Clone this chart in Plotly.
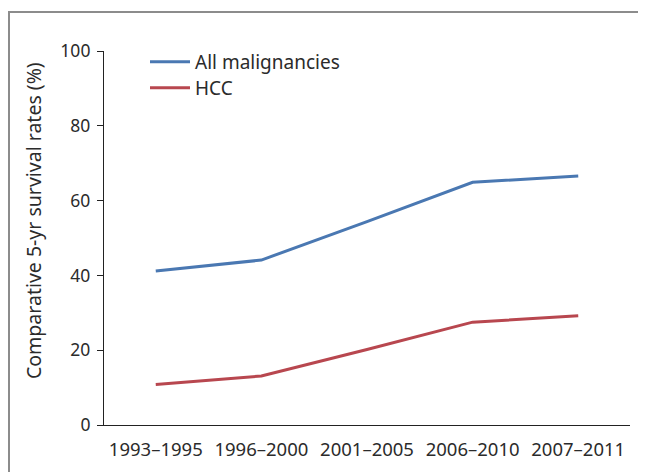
import plotly.graph_objects as go

periods = ["1993–1995", "1996–2000", "2001–2005", "2006–2010", "2007–2011"]
all_malignancies = [41.2, 44.1, 54.4, 64.9, 66.6]
hcc = [10.8, 13.1, 20.2, 27.5, 29.2]
y_ticks = [0, 20, 40, 60, 80, 100]

FONT = "Noto Sans"
TXT = "#2b2b2b"

fig = go.Figure()
fig.add_trace(go.Scatter(x=periods, y=all_malignancies, mode="lines", name="All malignancies",
                         line=dict(color="#4a78b2", width=3), legend="legend"))
fig.add_trace(go.Scatter(x=periods, y=hcc, mode="lines", name="HCC",
                         line=dict(color="#b8474f", width=3), legend="legend2"))

OFF = 8  # page body margin
W, H = 646, 472
L, T = 104 - OFF, 51 - OFF
R = W - (630 - OFF)
B = H - (425 - OFF)
pw, ph = W - L - R, H - T - B
bx = (9 - OFF - L) / pw
by = 1 + (T - (12 - OFF)) / ph


def leg_y(row_px):
    top = row_px - 19 - OFF
    return 1 + (T - top) / ph


leg_common = dict(x=(145 - OFF - L) / pw, xanchor="left", yanchor="top",
                  bgcolor="rgba(0,0,0,0)", font=dict(size=19, color=TXT), itemwidth=40)

fig.update_layout(
    width=W, height=H,
    margin=dict(l=L, r=R, t=T, b=B),
    paper_bgcolor="white", plot_bgcolor="white",
    font=dict(family=FONT, size=16, color=TXT),
    showlegend=True,
    legend=dict(y=leg_y(62), **leg_common),
    legend2=dict(y=leg_y(88), **leg_common),
    xaxis=dict(type="category", range=[-0.49, 4.49], showgrid=False, zeroline=False,
               showline=True, linecolor="#222", linewidth=1.2, ticks="",
               ticklabelstandoff=8,
               tickfont=dict(size=18.5, color=TXT)),
    yaxis=dict(range=[0, 100], tickvals=y_ticks, showgrid=False, zeroline=False,
               showline=True, linecolor="#222", linewidth=1.2, ticks="outside",
               ticklen=6, tickcolor="#222", tickwidth=1, ticklabelstandoff=3,
               tickfont=dict(size=17.5, color=TXT)),
    shapes=[dict(type="path", xref="paper", yref="paper",
                 path=f"M {bx} -0.3 L {bx} {by} L 1.2 {by}",
                 line=dict(color="#8c8c8c", width=2))],
    annotations=[dict(text="Comparative 5-yr survival rates (%)", xref="paper", yref="paper",
                      x=(33 - OFF - L) / pw, y=(425 - 221) / ph, textangle=-90, showarrow=False,
                      xanchor="center", yanchor="middle", font=dict(size=19.5, color=TXT))],
)

fig.write_html("out.html")
